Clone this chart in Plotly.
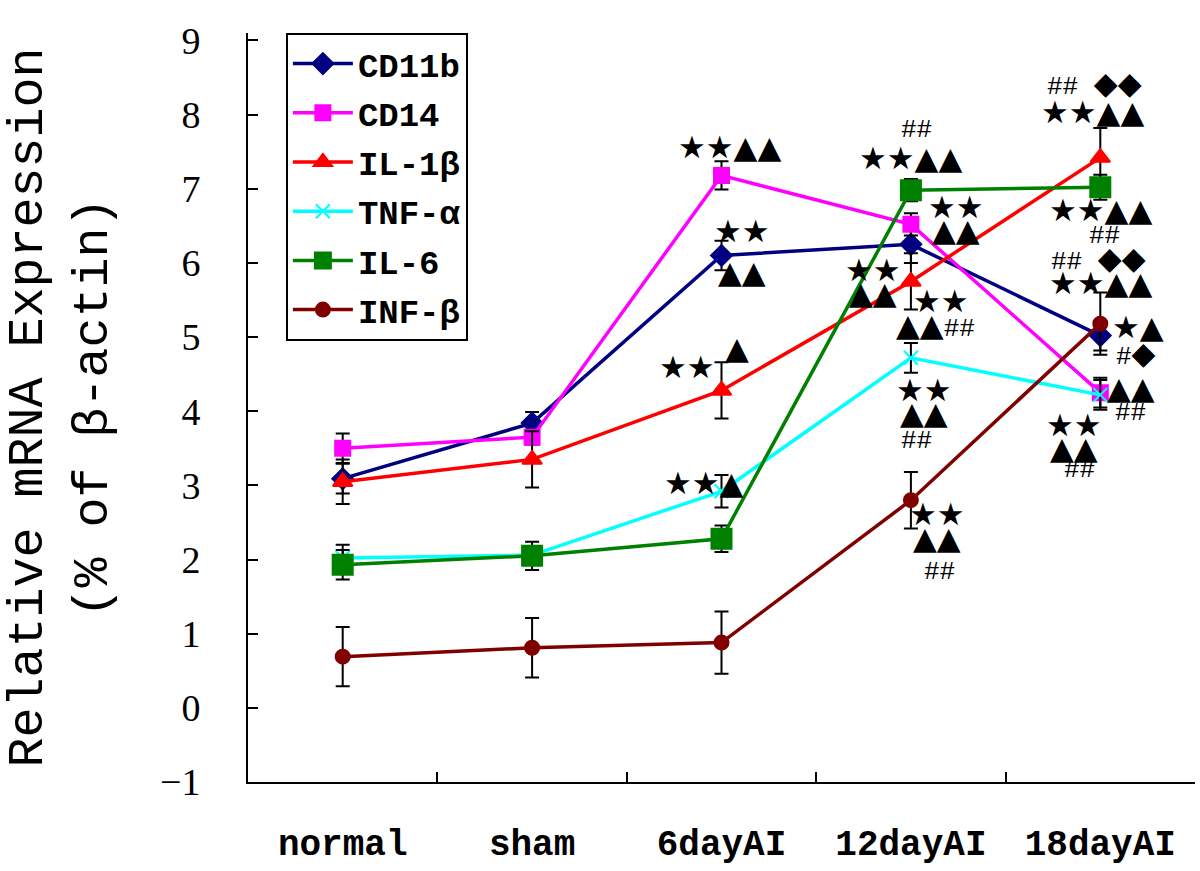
import plotly.graph_objects as go

categories = ["normal", "sham", "6dayAI", "12dayAI", "18dayAI"]

cd11b = [3.09, 3.84, 6.10, 6.25, 5.02]
cd11b_err = [0.20, 0.15, 0.20, 0.25, 0.20]
cd14 = [3.50, 3.65, 7.18, 6.52, 4.25]
cd14_err = [0.20, 0.10, 0.19, 0.15, 0.20]
il1b = [3.05, 3.35, 4.28, 5.75, 7.42]
il1b_err = [0.30, 0.38, 0.38, 0.38, 0.40]
tnfa = [2.02, 2.06, 2.92, 4.72, 4.22]
tnfa_err = [0.18, 0.10, 0.22, 0.20, 0.20]
il6 = [1.93, 2.05, 2.28, 6.98, 7.02]
il6_err = [0.20, 0.19, 0.18, 0.15, 0.17]
infb = [0.69, 0.81, 0.88, 2.80, 5.18]
infb_err = [0.40, 0.40, 0.42, 0.38, 0.42]

series = [
    ("CD11b", cd11b, cd11b_err, "#000080", "diamond", 16),
    ("CD14", cd14, cd14_err, "#FF00FF", "square", 15),
    ("IL-1β", il1b, il1b_err, "#FF0000", "triangle-up", 17),
    ("TNF-α", tnfa, tnfa_err, "#00FFFF", "x-thin-open", 14),
    ("IL-6", il6, il6_err, "#008000", "square", 20),
    ("INF-β", infb, infb_err, "#800000", "circle", 14),
]

fig = go.Figure()
for i, (name, vals, errs, color, sym, size) in enumerate(series):
    fig.add_trace(go.Scatter(
        x=categories, y=vals, name=name, mode="lines+markers",
        legendgroup=f"g{i}",
        line=dict(color=color, width=3.5),
        marker=dict(symbol=sym, size=size, color=color,
                    line=dict(color=color, width=2)),
        error_y=dict(type="data", array=errs, visible=True,
                     color="black", thickness=2, width=7),
    ))

SYM = "DejaVu Sans"
def h(t):
    return f'<span style="font-family:Liberation Mono;font-size:26px">{t}</span>'

notes = [
    # 6dayAI
    (2.04, 7.56, "★★▲▲"),
    (2.11, 6.43, "★★"), (2.11, 5.88, "▲▲"),
    (1.82, 4.60, "★★"), (2.08, 4.85, "▲"),
    (1.91, 3.03, "★★▲"),
    # 12dayAI
    (3.03, 7.79, h("##")), (3.00, 7.41, "★★▲▲"),
    (3.24, 6.75, "★★"), (3.24, 6.44, "▲▲"),
    (2.80, 5.90, "★★"), (2.80, 5.59, "▲▲"),
    (3.16, 5.49, "★★"), (3.13, 5.15, "▲▲" + h("##")),
    (3.07, 4.29, "★★"), (3.07, 3.98, "▲▲"), (3.03, 3.60, h("##")),
    (3.14, 2.61, "★★"), (3.14, 2.29, "▲▲"), (3.15, 1.83, h("##")),
    # 18dayAI
    (3.97, 8.42, h("## ") + "◆◆"), (3.96, 8.03, "★★▲▲"),
    (4.00, 6.71, "★★▲▲"), (4.02, 6.36, h("##")),
    (3.99, 6.06, h("## ") + "◆◆"), (4.00, 5.73, "★★▲▲"),
    (4.20, 5.13, "★▲"), (4.19, 4.78, h("#") + "◆"),
    (4.16, 4.31, "▲▲"), (4.16, 3.98, h("##")),
    (3.86, 3.81, "★★"), (3.86, 3.50, "▲▲"), (3.89, 3.21, h("##")),
]
for x, y, t in notes:
    fig.add_annotation(x=x, y=y, xref="x", yref="y", text=t, showarrow=False,
                       font=dict(family=SYM, size=31, color="black"),
                       xanchor="center", yanchor="middle")

fig.update_layout(
    width=1200, height=871,
    margin=dict(l=248, r=5, t=33, b=89),
    paper_bgcolor="white", plot_bgcolor="white",
    showlegend=True,
    legend=dict(
        x=0.04, y=1.0, xanchor="left", yanchor="top",
        bgcolor="white", bordercolor="black", borderwidth=2,
        font=dict(family="Liberation Mono", size=34, color="black", weight="bold"),
        tracegroupgap=2, itemwidth=60,
    ),
    font=dict(family="Liberation Mono", color="black"),
)
fig.update_xaxes(
    type="category", range=[-0.5, 4.5], automargin=False,
    showline=True, linecolor="black", linewidth=2,
    ticks="inside", ticklen=10, tickwidth=2, tickcolor="black",
    tickson="boundaries", showgrid=False, zeroline=False,
    tickfont=dict(family="Liberation Mono", size=36, color="black", weight="bold"),
    ticklabelstandoff=28,
)
fig.update_yaxes(
    range=[-1, 9.1], tickvals=list(range(-1, 10)), automargin=False,
    showline=True, linecolor="black", linewidth=2,
    ticks="inside", ticklen=10, tickwidth=2, tickcolor="black",
    showgrid=False, zeroline=False,
    tickfont=dict(family="Liberation Serif", size=38, color="black"),
    ticklabelstandoff=38,
    title=dict(text="Relative mRNA Expression<br>(% of β-actin)",
               font=dict(family="Liberation Mono", size=50, color="black"),
               standoff=40),
)

fig.write_html("out.html",
               config={"displayModeBar": False},
               post_script="document.body.style.margin='0px';document.body.style.overflow='hidden';")
